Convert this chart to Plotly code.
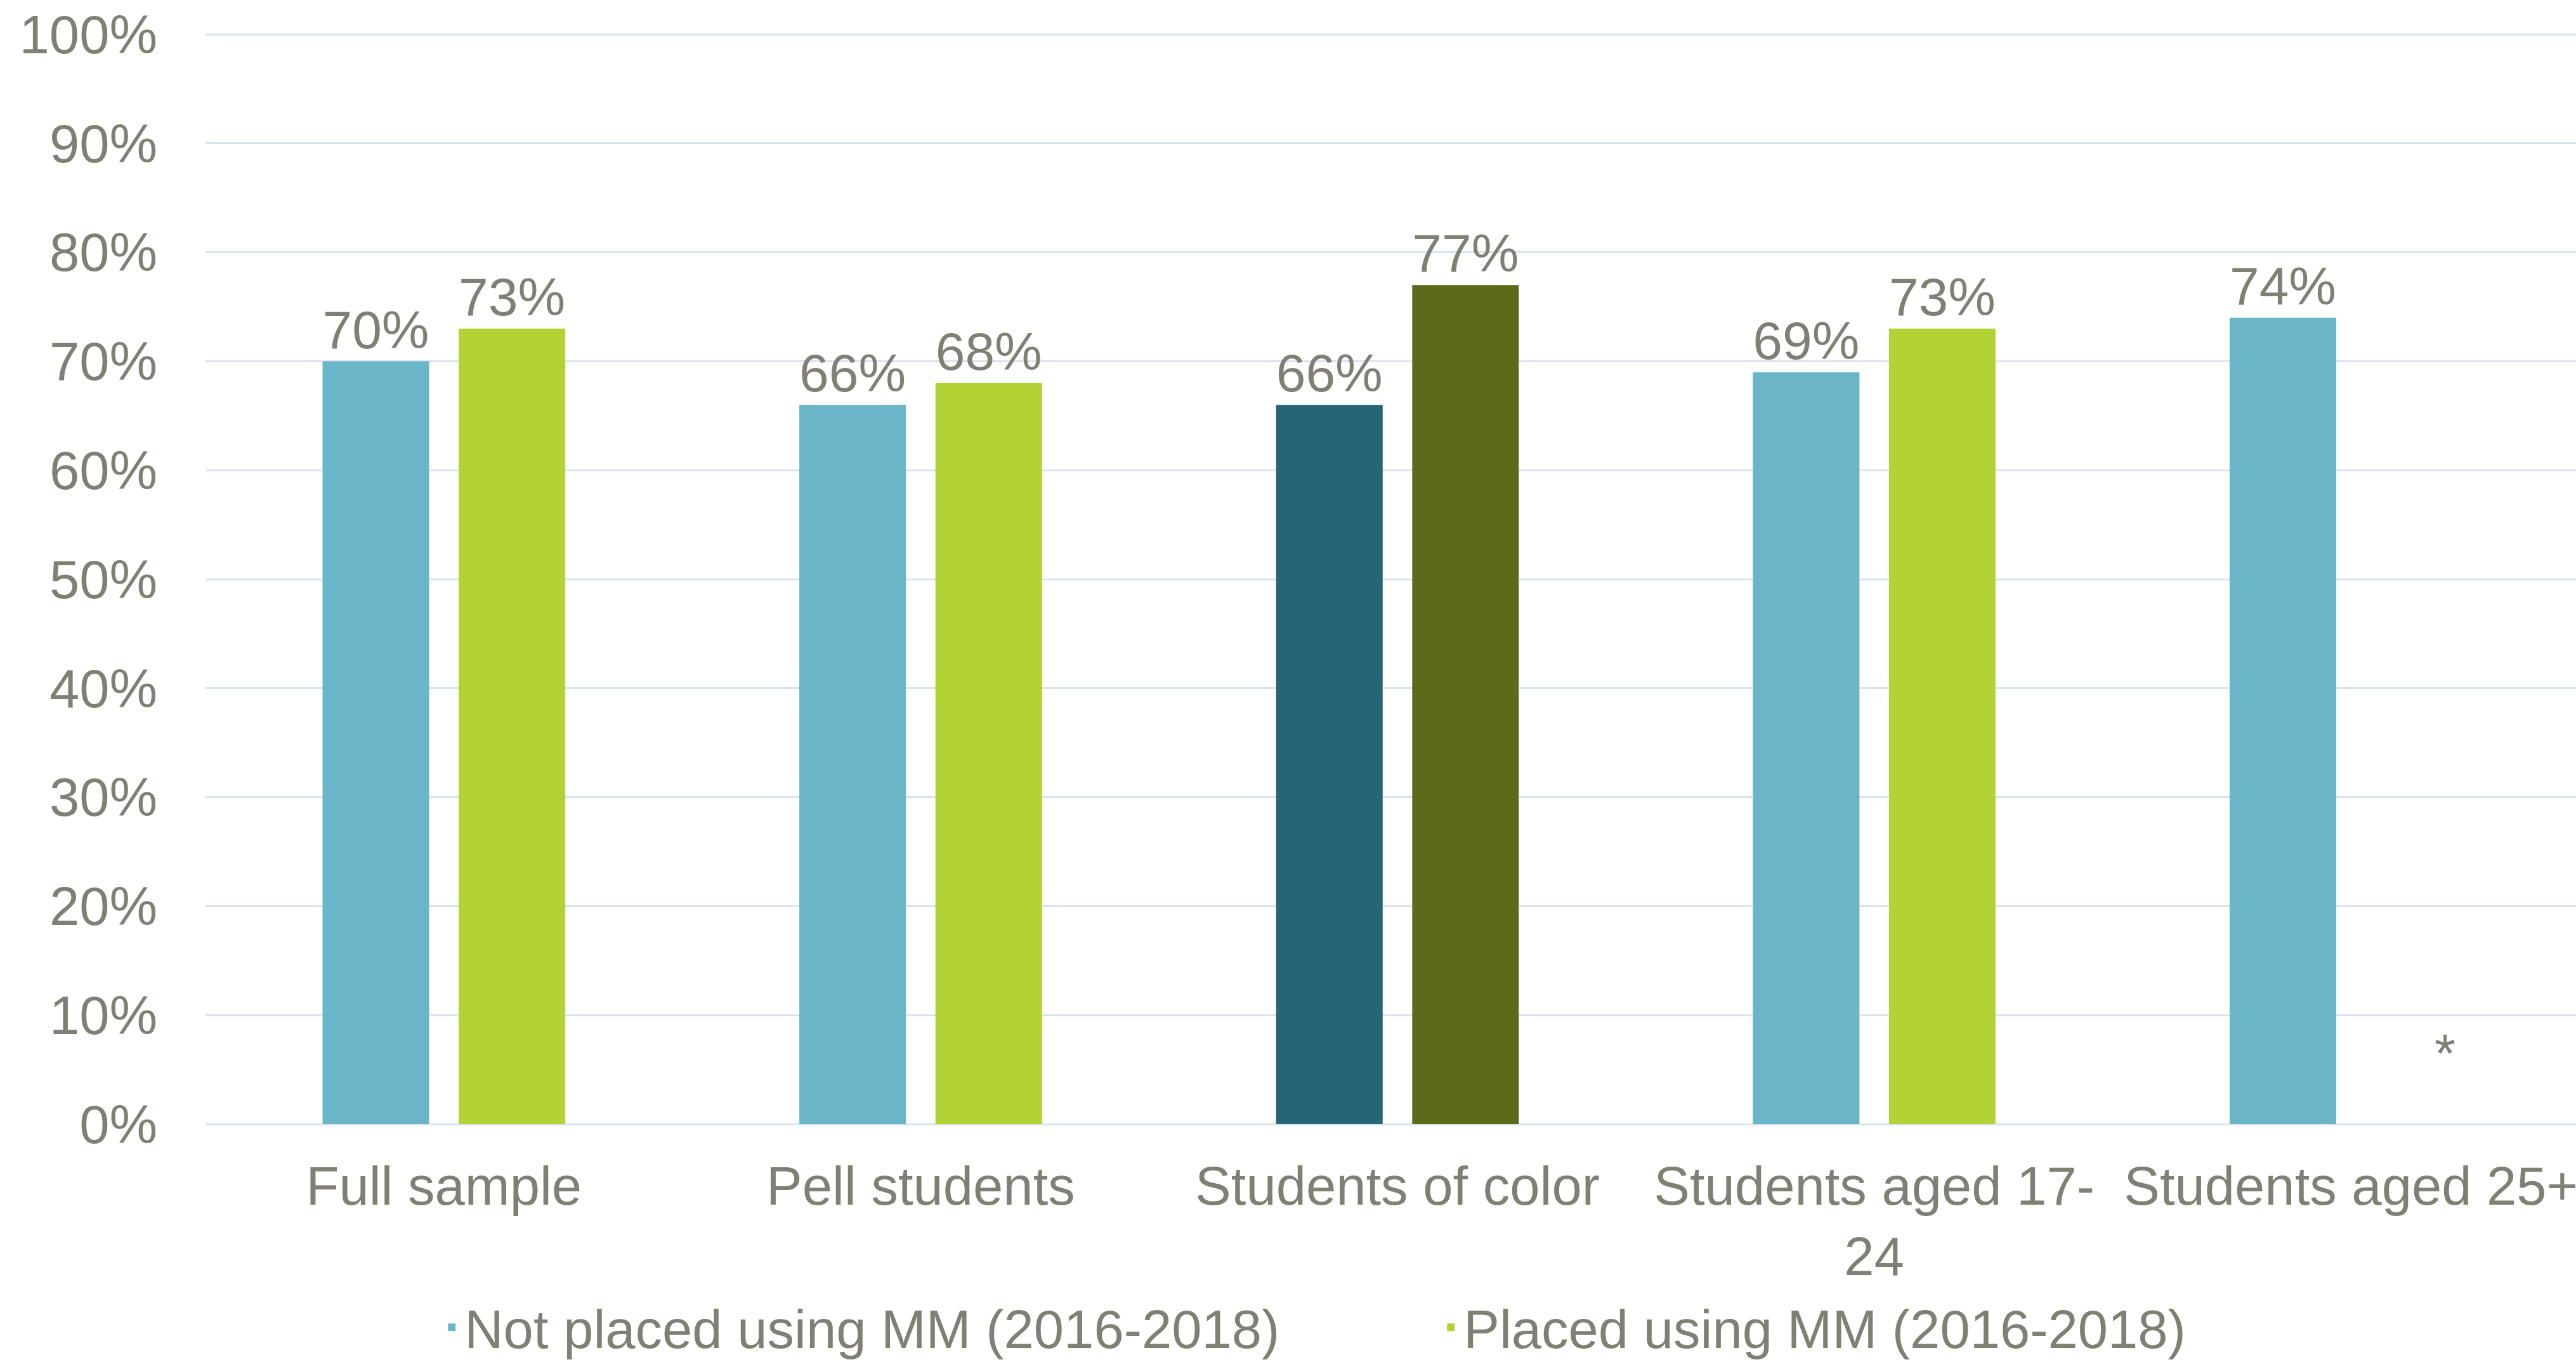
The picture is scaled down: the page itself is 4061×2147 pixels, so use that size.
import plotly.graph_objects as go

categories = ["Full sample", "Pell students", "Students of color", "Students aged 17-<br>24", "Students aged 25+"]
not_placed = [0.70, 0.66, 0.66, 0.69, 0.74]
placed = [0.73, 0.68, 0.77, 0.73, None]
not_placed_colors = ["#6BB5C9", "#6BB5C9", "#266573", "#6BB5C9", "#6BB5C9"]
placed_colors = ["#B3D335", "#B3D335", "#5B6B1A", "#B3D335", "#B3D335"]
y_ticks = [0, 0.1, 0.2, 0.3, 0.4, 0.5, 0.6, 0.7, 0.8, 0.9, 1.0]

TXT = "#7F7F74"
FONT = "Liberation Sans, Arial, sans-serif"
FS = 85

fig = go.Figure()
fig.add_trace(go.Bar(
    x=categories, y=not_placed, name="Not placed using MM (2016-2018)",
    marker=dict(color=not_placed_colors, line=dict(width=0)),
    texttemplate="%{y:.0%}", textposition="outside", cliponaxis=False,
    textfont=dict(size=FS, color=TXT, family=FONT),
))
fig.add_trace(go.Bar(
    x=categories, y=placed, name="Placed using MM (2016-2018)",
    marker=dict(color=placed_colors, line=dict(width=0)),
    texttemplate="%{y:.0%}", textposition="outside", cliponaxis=False,
    textfont=dict(size=FS, color=TXT, family=FONT),
))

fig.add_annotation(x=categories[4], y=0.065, xref="x", yref="y", text="*",
                   showarrow=False, xshift=148,
                   font=dict(size=FS, color=TXT, family=FONT))

fig.update_layout(
    width=4061, height=2147,
    margin=dict(l=324, r=0, t=49, b=375, autoexpand=False),
    paper_bgcolor="white", plot_bgcolor="white",
    barmode="group", bargap=0.429, bargroupgap=0.217,
    font=dict(family=FONT, size=FS, color=TXT),
    showlegend=True,
    legend=dict(orientation="h", x=0.52, xanchor="center", y=-0.186, yanchor="middle",
                font=dict(size=FS, color=TXT, family=FONT), itemwidth=30,
                entrywidth=1530, entrywidthmode="pixels",
                traceorder="normal"),
)
fig.update_xaxes(range=[-0.5, 4.472], showgrid=False, showline=False,
                 tickfont=dict(size=FS, color=TXT, family=FONT),
                 ticks="", ticklabelstandoff=41)
fig.update_yaxes(range=[0, 1.003], tickvals=y_ticks, tickformat=".0%",
                 showgrid=True, gridcolor="#D9E2F0", gridwidth=3,
                 zeroline=True, zerolinecolor="#D9E2F0", zerolinewidth=3,
                 tickfont=dict(size=FS, color=TXT, family=FONT),
                 ticks="", ticklabelstandoff=75)

fig.write_html("out.html")
